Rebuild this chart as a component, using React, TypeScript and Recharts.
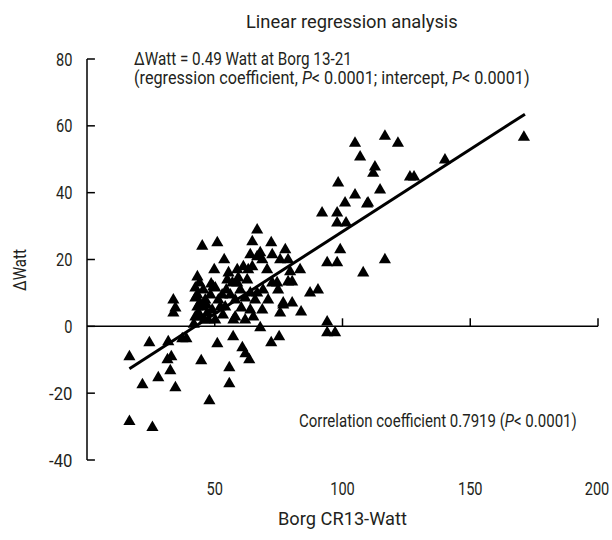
import { useLayoutEffect, useRef, useState } from "react";
import {
  ScatterChart,
  Scatter,
  XAxis,
  YAxis,
  ZAxis,
  ReferenceLine,
} from "recharts";

// Borg CR13-Watt (x) vs ΔWatt (y)
const borgWatt = [
  16.6, 16.6, 25.6, 21.7, 27.9, 24.4, 31.8, 37.3, 38.9, 31.5, 33.0, 32.6, 34.6,
  47.9, 44.7, 51.0, 55.7, 55.7, 57.2, 60.8, 62.0, 63.5, 67.8, 72.1, 75.2, 94.0,
  97.1, 75.6, 76.8, 83.8, 94.0, 33.8, 33.8, 34.6, 42.4, 43.2, 44.4, 47.1, 49.0,
  45.1, 42.4, 43.2, 42.4, 43.2, 50.2, 49.4, 52.2, 57.3, 56.1, 58.0, 54.1, 60.0,
  63.9, 65.1, 63.9, 66.6, 65.8, 62.7, 59.2, 58.8, 58.8, 54.9, 58.0, 68.6, 74.4,
  74.8, 76.8, 78.7, 83.4, 87.3, 90.4, 79.5, 80.3, 78.7, 77.6, 75.6, 72.5, 68.6,
  66.6, 64.7, 61.2, 66.6, 64.7, 72.1, 67.8, 63.9, 45.1, 51.0, 53.7, 49.8, 55.4,
  46.3, 48.3, 47.5, 50.2, 52.9, 61.9, 61.9, 92.0, 97.9, 101.0, 109.6, 97.9,
  101.4, 99.1, 94.0, 97.9, 108.1, 116.6, 98.3, 104.9, 104.9, 106.9, 112.7,
  112.0, 114.7, 116.6, 121.7, 126.4, 128.0, 140.1, 171.0, 110.0, 44.0, 45.5,
  51.4, 54.5, 56.9, 63.1, 70.5, 72.5, 70.9, 68.9, 80.3, 43.6, 45.9, 44.2, 46.8,
  41.8, 48.6, 53.2, 60.4,
];
const deltaWatt = [
  -9.1, -28.5, -30.3, -17.5, -15.4, -4.9, -4.6, -3.7, -3.7, -10.0, -9.1, -13.3,
  -18.4, -22.3, -10.3, -5.2, -12.4, -17.2, -3.1, -6.4, -8.2, -10.0, -0.4, -4.9,
  -3.1, -1.9, -1.9, 4.0, 6.4, 4.3, 1.3, 7.9, 4.0, 5.5, 2.8, 5.8, 2.8, 4.0, 4.9,
  5.8, 8.5, 9.4, 11.5, 14.8, 11.5, 11.8, 5.8, 1.9, 9.4, 2.8, 5.8, 10.9, 4.9,
  2.8, 10.0, 10.0, 7.9, 13.9, 14.5, 16.9, 13.0, 13.9, 7.9, 4.9, 13.0, 10.9, 7.0,
  13.3, 16.9, 10.0, 10.9, 16.3, 13.3, 19.9, 22.9, 19.9, 21.4, 19.9, 20.8, 17.8,
  17.8, 28.8, 25.3, 25.0, 22.0, 21.4, 24.0, 25.0, 19.9, 16.9, 16.0, 7.9, 9.4,
  1.9, 1.9, 9.4, 8.5, 1.9, 33.9, 33.9, 36.9, 36.6, 30.9, 30.9, 22.9, 19.0,
  19.0, 16.0, 19.9, 42.9, 39.3, 54.8, 50.7, 47.7, 45.8, 40.8, 56.9, 54.8, 44.7,
  44.7, 49.8, 56.6, 36.9, 13.0, 10.9, 7.9, 10.9, 13.0, 16.9, 16.9, 13.0, 7.9,
  10.9, 7.0, 4.0, 1.9, 7.0, 6.4, 0.6, 12.7, 3.4, 5.5,
];

// regression line end points
const fitX = [16.6, 171.4];
const fitY = [-12.7, 63.5];

const xTicks = [50, 100, 150, 200];
const yTicks = [-40, -20, 0, 20, 40, 60, 80];

const points = borgWatt.map((x, i) => ({ x, y: deltaWatt[i] }));
const fitLine = fitX.map((x, i) => ({ x, y: fitY[i] }));

const FONT = 'Roboto, "Noto Sans", sans-serif';
const INK = "#231f20";
const FS = 18;

// squeeze glyphs a little so the text looks like the condensed face of the original
function labelWidth(s: string) {
  let w = 0;
  for (const ch of s) w += ch === "-" ? 7 : 8.2;
  return w;
}

function XTick(props: any) {
  const { x, y, payload } = props;
  const s = String(payload.value);
  return (
    <text
      x={payload.value === 200 ? x - 1 : x}
      y={y + 34.5}
      textAnchor="middle"
      fontSize={FS}
      fontFamily={FONT}
      fill={INK}
      textLength={labelWidth(s)}
      lengthAdjust="spacingAndGlyphs"
    >
      {s}
    </text>
  );
}

function YTick(props: any) {
  const { x, y, payload } = props;
  const s = String(payload.value);
  return (
    <text
      x={x}
      y={y + 6.5}
      textAnchor="end"
      fontSize={FS}
      fontFamily={FONT}
      fill={INK}
      textLength={labelWidth(s)}
      lengthAdjust="spacingAndGlyphs"
    >
      {s}
    </text>
  );
}

// text scaled horizontally so it spans the given width
function FitText({ x, y, w, rotate, children }: any) {
  const ref = useRef<SVGTextElement>(null);
  const [k, setK] = useState(1);
  useLayoutEffect(() => {
    const el = ref.current;
    if (!el) return;
    const len = el.getComputedTextLength();
    if (len > 0) setK(w / len);
  }, [w]);
  const rot = rotate ? ` rotate(${rotate})` : "";
  return (
    <text ref={ref} x={0} y={0} transform={`translate(${x},${y})${rot} scale(${k},1)`}>
      {children}
    </text>
  );
}

export default function App() {
  return (
    <div
      style={{
        position: "absolute",
        left: 0,
        top: 0,
        width: 612,
        height: 540,
        background: "#fff",
        fontFamily: FONT,
      }}
    >
      <ScatterChart
        width={612}
        height={540}
        margin={{ top: 59, right: 14, bottom: 50, left: 47 }}
      >
        <XAxis
          type="number"
          dataKey="x"
          domain={[0, 200]}
          ticks={xTicks}
          axisLine={false}
          tickLine={false}
          tickSize={0}
          tickMargin={0}
          height={30}
          tick={<XTick />}
        />
        <YAxis
          type="number"
          dataKey="y"
          domain={[-40, 80]}
          ticks={yTicks}
          axisLine={{ stroke: "#000", strokeWidth: 1.5 }}
          tickLine={false}
          tickSize={0}
          tickMargin={14.5}
          width={40}
          tick={<YTick />}
        />
        <ZAxis type="number" range={[85, 85]} />

        {/* x axis drawn through y = 0 */}
        <ReferenceLine y={0} stroke="#000" strokeWidth={1.5} />
        {xTicks.map((t) => (
          <ReferenceLine
            key={"xt" + t}
            segment={[
              { x: t, y: 0 },
              { x: t, y: 2.4 },
            ]}
            stroke="#000"
            strokeWidth={1.5}
          />
        ))}
        {/* y ticks point inward */}
        {yTicks.map((t) => (
          <ReferenceLine
            key={"yt" + t}
            segment={[
              { x: 0, y: t },
              { x: 3.1, y: t },
            ]}
            stroke="#000"
            strokeWidth={1.5}
          />
        ))}

        <Scatter
          data={points}
          shape="triangle"
          fill="#000"
          isAnimationActive={false}
        />
        <Scatter
          data={fitLine}
          line={{ stroke: "#000", strokeWidth: 3 }}
          shape={() => null}
          isAnimationActive={false}
        />
      </ScatterChart>

      <svg
        width={612}
        height={540}
        style={{ position: "absolute", left: 0, top: 0, pointerEvents: "none" }}
        fontFamily={FONT}
        fill={INK}
        fontSize={FS}
      >
        <FitText x={246} y={28} w={212}>Linear regression analysis</FitText>

        <FitText x={134} y={65} w={218}>ΔWatt = 0.49 Watt at Borg 13-21</FitText>

        <FitText x={134} y={84} w={396}>
          {"(regression coefficient, "}
          <tspan fontStyle="italic">P</tspan>
          {"< 0.0001; intercept, "}
          <tspan fontStyle="italic">P</tspan>
          {"< 0.0001)"}
        </FitText>

        <FitText x={299} y={427} w={278}>
          {"Correlation coefficient 0.7919 ("}
          <tspan fontStyle="italic">P</tspan>
          {"< 0.0001)"}
        </FitText>

        <FitText x={278} y={525} w={129}>Borg CR13-Watt</FitText>

        <FitText x={26} y={291} w={42} rotate={-90}>ΔWatt</FitText>
      </svg>
    </div>
  );
}
